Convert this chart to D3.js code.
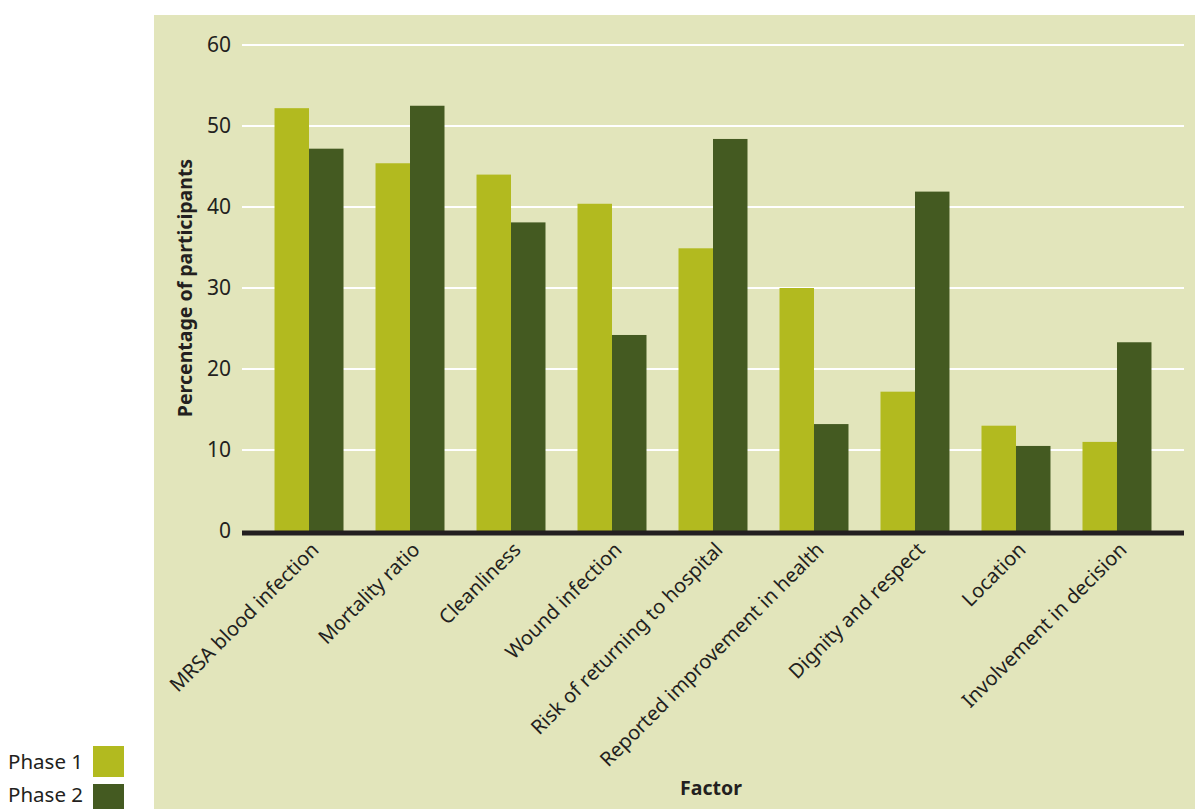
<!DOCTYPE html>
<html>
<head>
<meta charset="utf-8">
<script src="https://cdn.jsdelivr.net/npm/d3@7"></script>
<style>
  body { margin: 0; background: #fff; }
  text { font-family: "Noto Sans", sans-serif; fill: #231f20; }
</style>
</head>
<body>
<svg id="chart" width="1195" height="809"></svg>
<script>
// factors and percentages for each phase
var factors = [
    "MRSA blood infection",
    "Mortality ratio",
    "Cleanliness",
    "Wound infection",
    "Risk of returning to hospital",
    "Reported improvement in health",
    "Dignity and respect",
    "Location",
    "Involvement in decision"
];
var phase1 = [52.2, 45.4, 44.0, 40.4, 34.9, 30.0, 17.2, 13.0, 11.0];
var phase2 = [47.2, 52.5, 38.1, 24.2, 48.4, 13.2, 41.9, 10.5, 23.3];
var yTicks = [0, 10, 20, 30, 40, 50, 60];
var series = ["Phase 1", "Phase 2"];

var colors = ["#b2ba1f", "#445a21"];

var svg = d3.select("#chart");

// panel background
svg.append("rect")
    .attr("x", 154)
    .attr("y", 15)
    .attr("width", 1195 - 154)
    .attr("height", 809 - 15)
    .attr("fill", "#e2e5bb");

var x = d3.scaleBand()
    .domain(factors)
    .range([242, 1184])
    .paddingInner(0.317)
    .paddingOuter(0.322);

var xSub = d3.scaleBand()
    .domain(series)
    .range([0, x.bandwidth()]);

var y = d3.scaleLinear()
    .domain([0, 60])
    .range([531, 45]);

// gridlines
svg.append("g")
    .selectAll("line")
    .data(yTicks.filter(function(t) { return t > 0; }))
    .enter().append("line")
    .attr("x1", 242)
    .attr("x2", 1184)
    .attr("y1", function(d) { return y(d); })
    .attr("y2", function(d) { return y(d); })
    .attr("stroke", "#fff")
    .attr("stroke-width", 2);

// y tick labels
svg.append("g")
    .selectAll("text")
    .data(yTicks)
    .enter().append("text")
    .attr("x", 231)
    .attr("y", function(d) { return y(d); })
    .attr("dy", "0.35em")
    .attr("text-anchor", "end")
    .style("font-size", "21px")
    .text(function(d) { return d; });

// bars
var rows = factors.map(function(f, i) {
    return { factor: f, values: [phase1[i], phase2[i]] };
});

var group = svg.append("g")
    .selectAll("g")
    .data(rows)
    .enter().append("g")
    .attr("transform", function(d) { return "translate(" + x(d.factor) + ",0)"; });

group.selectAll("rect")
    .data(function(d) { return d.values; })
    .enter().append("rect")
    .attr("x", function(d, i) { return xSub(series[i]); })
    .attr("y", function(d) { return y(d); })
    .attr("width", xSub.bandwidth())
    .attr("height", function(d) { return y(0) - y(d); })
    .attr("fill", function(d, i) { return colors[i]; });

// zero line
svg.append("line")
    .attr("x1", 242)
    .attr("x2", 1184)
    .attr("y1", y(0) + 2)
    .attr("y2", y(0) + 2)
    .attr("stroke", "#231f20")
    .attr("stroke-width", 5);

// rotated category labels
svg.append("g")
    .selectAll("text")
    .data(factors)
    .enter().append("text")
    .attr("transform", function(d) {
        return "translate(" + (x(d) + x.bandwidth() / 2 + 11) + ",551) rotate(-45)";
    })
    .attr("text-anchor", "end")
    .style("font-size", "20px")
    .text(function(d) { return d; });

// axis titles
svg.append("text")
    .attr("transform", "translate(192," + ((y(0) + y(60)) / 2) + ") rotate(-90)")
    .attr("text-anchor", "middle")
    .style("font-size", "19.5px")
    .style("font-weight", "bold")
    .text("Percentage of participants");

svg.append("text")
    .attr("x", 711)
    .attr("y", 795)
    .attr("text-anchor", "middle")
    .style("font-size", "19.5px")
    .style("font-weight", "bold")
    .text("Factor");

// legend
var legend = svg.append("g")
    .selectAll("g")
    .data(series)
    .enter().append("g");

legend.append("rect")
    .attr("x", 93)
    .attr("y", function(d, i) { return 746 + i * 38; })
    .attr("width", 31)
    .attr("height", 31)
    .attr("fill", function(d, i) { return colors[i]; });

legend.append("text")
    .attr("x", 83)
    .attr("y", function(d, i) { return 769 + i * 33; })
    .attr("text-anchor", "end")
    .style("font-size", "20.5px")
    .text(function(d) { return d; });
</script>
</body>
</html>
